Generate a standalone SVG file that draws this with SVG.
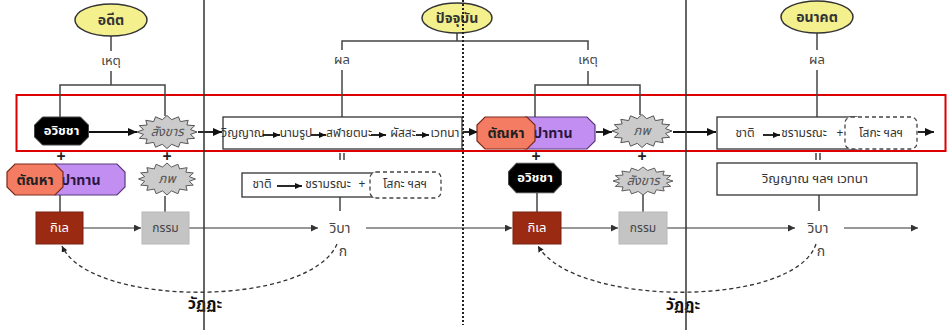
<svg xmlns="http://www.w3.org/2000/svg" width="948" height="330" viewBox="0 0 948 330">
<style>
text{font-family:"Noto Sans Thai","Noto Sans","DejaVu Sans",sans-serif;text-anchor:middle;dominant-baseline:central}
.ln{stroke:#444;stroke-width:1.5;fill:none}
.ar{stroke:#111;stroke-width:1.8;fill:none;marker-end:url(#ah)}
.ar2{stroke:#333;stroke-width:1.1;fill:none;marker-end:url(#ah2)}
.sm{stroke:#111;stroke-width:1.8;fill:none;marker-end:url(#ahs)}
.arc{stroke:#333;stroke-width:1.3;fill:none;stroke-dasharray:4 3;marker-end:url(#ahd)}
.ell{fill:#f4f08e;stroke:#333;stroke-width:1.5}
.star{fill:#cbcbcb;stroke:#555;stroke-width:1}
.oct{fill:#000;stroke:#444;stroke-width:1}
.orange{fill:#f47c63;stroke:#7a2a1a;stroke-width:1.2}
.purple{fill:#c28ef2;stroke:#5a3a7a;stroke-width:1.2}
.box{fill:#fff;stroke:#333;stroke-width:1.3}
.dbox{fill:#fff;stroke:#444;stroke-width:1.3;stroke-dasharray:4 3}
.lbl{font-size:13px;fill:#444}
.era{font-size:14px;font-weight:bold;fill:#333}
.wt{font-size:13px;font-weight:bold;fill:#fff}
.dk{font-size:14px;font-weight:bold;fill:#222}
.st{font-size:13px;fill:#555;font-style:italic}
.bx{font-size:12px;fill:#333}
.pl{font-size:16px;font-weight:bold;fill:#222}
.kl{font-size:13px;fill:#fff}
.km{font-size:12px;fill:#444}
.vb{font-size:14px;fill:#444}
.vt{font-size:16px;font-weight:bold;fill:#111}
.div{stroke:#333;stroke-width:1.5}
.dot{stroke:#222;stroke-width:2;stroke-dasharray:2 2}
</style>
<defs>
<marker id="ah" markerUnits="userSpaceOnUse" markerWidth="9" markerHeight="8" refX="9" refY="4" orient="auto"><path d="M0,0 L9,4 L0,8 z" fill="#111"/></marker>
<marker id="ah2" markerUnits="userSpaceOnUse" markerWidth="7" markerHeight="7" refX="7" refY="3.5" orient="auto"><path d="M0,0 L7,3.5 L0,7 z" fill="#333"/></marker>
<marker id="ahs" markerUnits="userSpaceOnUse" markerWidth="7" markerHeight="6" refX="7" refY="3" orient="auto"><path d="M0,0 L7,3 L0,6 z" fill="#111"/></marker>
<marker id="ahd" markerUnits="userSpaceOnUse" markerWidth="6" markerHeight="6" refX="6" refY="3" orient="auto"><path d="M0,0 L6,3 L0,6 z" fill="#222"/></marker>
<polygon id="starshape" points="30,0 23.5,2.4 27.7,6.3 19.9,7 21.2,11.7 13.3,10.4 11.5,15.2 4.7,12.3 0,16.5 -4.7,12.3 -11.5,15.2 -13.3,10.4 -21.2,11.7 -19.9,7 -27.7,6.3 -23.5,2.4 -30,0 -23.5,-2.4 -27.7,-6.3 -19.9,-7 -21.2,-11.7 -13.3,-10.4 -11.5,-15.2 -4.7,-12.3 0,-16.5 4.7,-12.3 11.5,-15.2 13.3,-10.4 21.2,-11.7 19.9,-7 27.7,-6.3 23.5,-2.4"/>
<polygon id="octshape" points="-19,-14 19,-14 27,-6 27,6 19,14 -19,14 -27,6 -27,-6"/>
</defs>

<rect x="16.5" y="95" width="929" height="56" fill="none" stroke="#d00" stroke-width="2"/>

<g id="connectors">
<line class="ln" x1="111" y1="36" x2="111" y2="51"/>
<line class="ln" x1="111" y1="71" x2="111" y2="85"/>
<path class="ln" d="M60,117 V85 H165 V116"/>
<line class="ln" x1="457" y1="33" x2="457" y2="41"/>
<path class="ln" d="M342,50 V41 H588 V50"/>
<line class="ln" x1="342" y1="70" x2="342" y2="117"/>
<line class="ln" x1="588" y1="71" x2="588" y2="85"/>
<path class="ln" d="M535,117 V85 H640 V115"/>
<line class="ln" x1="817" y1="33" x2="817" y2="50"/>
<line class="ln" x1="817" y1="70" x2="817" y2="117"/>
<line class="ar" x1="88" y1="132" x2="137" y2="132"/>
<line class="ar" x1="198" y1="132" x2="222" y2="132"/>
<line class="ar" x1="463" y1="132" x2="478" y2="132"/>
<line class="ar" x1="596" y1="132" x2="612" y2="132"/>
<line class="ar" x1="673" y1="132" x2="716" y2="132"/>
<line class="ar" x1="918" y1="132" x2="934" y2="132"/>
<line class="ln" x1="340" y1="153" x2="340" y2="160"/>
<line class="ln" x1="344" y1="153" x2="344" y2="160"/>
<line class="ln" x1="816" y1="153" x2="816" y2="160"/>
<line class="ln" x1="820" y1="153" x2="820" y2="160"/>
<line class="ln" x1="60" y1="195" x2="60" y2="212"/>
<line class="ln" x1="165" y1="196" x2="165" y2="212"/>
<line class="ln" x1="340" y1="197" x2="340" y2="211"/>
<line class="ln" x1="537" y1="193" x2="537" y2="212"/>
<line class="ln" x1="643" y1="195" x2="643" y2="212"/>
<line class="ln" x1="819" y1="195" x2="819" y2="211"/>
<line class="ar2" x1="83" y1="228" x2="141" y2="228"/>
<line class="ar2" x1="189" y1="228" x2="318" y2="228"/>
<line class="ar2" x1="366" y1="228" x2="512" y2="228"/>
<line class="ar2" x1="561" y1="228" x2="618" y2="228"/>
<line class="ar2" x1="667" y1="228" x2="795" y2="228"/>
<line class="ar2" x1="844" y1="228" x2="918" y2="228"/>
<path class="arc" d="M337,244 C310,308 90,308 62,246"/>
<path class="arc" d="M816,244 C795,308 575,308 538,246"/>
</g>

<g id="labels">
<text class="lbl" x="111" y="61">เหตุ</text>
<text class="lbl" x="342" y="60">ผล</text>
<text class="lbl" x="588" y="60">เหตุ</text>
<text class="lbl" x="817" y="60">ผล</text>
<text class="pl" x="61" y="157">+</text>
<text class="pl" x="167" y="157">+</text>
<text class="pl" x="536" y="157">+</text>
<text class="pl" x="642" y="157">+</text>
<text class="vt" x="205" y="304">วัฏฏะ</text>
<text class="vt" x="683" y="305">วัฏฏะ</text>
</g>

<g id="past"><ellipse class="ell" cx="111" cy="20" rx="36" ry="16"/><text class="era" x="111" y="20">อดีต</text></g>
<g id="present"><ellipse class="ell" cx="457" cy="18" rx="35" ry="15"/><text class="era" x="457" y="18">ปัจจุบัน</text></g>
<g id="future"><ellipse class="ell" cx="817" cy="17" rx="36" ry="16"/><text class="era" x="817" y="17">อนาคต</text></g>

<g id="avijja1"><use href="#octshape" class="oct" transform="translate(61.5,131)"/><text class="wt" x="61.5" y="131">อวิชชา</text></g>
<g id="sankhara1"><use href="#starshape" class="star" transform="translate(167,132)"/><text class="st" x="167" y="132">สังขาร</text></g>
<g id="present-result">
<rect class="box" x="223" y="117" width="239" height="32"/>
<text class="bx" x="243" y="133">วิญญาณ</text>
<line class="sm" x1="263" y1="135" x2="280" y2="135"/>
<text class="bx" x="296" y="133">นามรูป</text>
<line class="sm" x1="311" y1="135" x2="326" y2="135"/>
<text class="bx" x="349" y="133">สฬายตนะ</text>
<line class="sm" x1="371" y1="135" x2="386" y2="135"/>
<text class="bx" x="403" y="133">ผัสสะ</text>
<line class="sm" x1="416" y1="135" x2="429" y2="135"/>
<text class="bx" x="445" y="133">เวทนา</text>
</g>
<g id="tanha1">
<polygon class="purple" points="525,117 587,117 595,125 595,141 587,149 525,149"/>
<text class="dk" x="525" y="133" style="text-anchor:start;fill:#2a1540">อุปาทาน</text>
<polygon class="orange" points="485,117 527,117 535,125 535,141 527,149 485,149 477,141 477,125"/>
<text class="dk" x="506" y="133">ตัณหา</text>
</g>
<g id="bhava1"><use href="#starshape" class="star" transform="translate(642,131)"/><text class="st" x="642" y="131">ภพ</text></g>
<g id="future-result">
<rect class="box" x="717" y="117" width="140" height="32"/>
<text class="bx" x="745" y="133">ชาติ</text>
<line class="sm" x1="763" y1="135" x2="780" y2="135"/>
<text class="bx" x="804" y="133">ชรามรณะ</text>
<text class="bx" x="840" y="133">+</text>
<rect class="dbox" x="845" y="117" width="72" height="32" rx="6"/>
<text class="bx" x="881" y="133">โสกะ ฯลฯ</text>
</g>

<g id="tanha2">
<polygon class="purple" points="55,164 117,164 125,172 125,187 117,195 55,195"/>
<text class="dk" x="53" y="180" style="text-anchor:start;fill:#2a1540">อุปาทาน</text>
<polygon class="orange" points="15,164 55,164 63,172 63,187 55,195 15,195 7,187 7,172"/>
<text class="dk" x="35" y="180">ตัณหา</text>
</g>
<g id="bhava2"><use href="#starshape" class="star" transform="translate(167,179) scale(0.95,0.97)"/><text class="st" x="167" y="179">ภพ</text></g>
<g id="jati-box">
<rect class="box" x="242" y="173" width="140" height="24"/>
<text class="bx" x="262" y="184">ชาติ</text>
<line class="sm" x1="277" y1="186" x2="302" y2="186"/>
<text class="bx" x="328" y="184">ชรามรณะ</text>
<text class="bx" x="362" y="184">+</text>
<rect class="dbox" x="370" y="172" width="71" height="26" rx="6"/>
<text class="bx" x="405" y="184">โสกะ ฯลฯ</text>
</g>
<g id="avijja2"><use href="#octshape" class="oct" transform="translate(535,178) scale(0.98,1.05)"/><text class="wt" x="535" y="178">อวิชชา</text></g>
<g id="sankhara2"><use href="#starshape" class="star" transform="translate(643,181) scale(1,0.85)"/><text class="st" x="643" y="181">สังขาร</text></g>
<g id="vinnana-box"><rect class="box" x="717" y="163" width="200" height="32"/><text class="bx" x="815" y="179" style="font-size:13px">วิญญาณ ฯลฯ เวทนา</text></g>

<g id="kilesa1"><rect x="36" y="212" width="47" height="32" fill="#9a2a12" stroke="#7a2010"/><text class="kl" x="59.5" y="228">กิเล</text></g>
<g id="kamma1"><rect x="142" y="212" width="47" height="32" fill="#c4c4c4" stroke="#b8b8b8"/><text class="km" x="165.5" y="228">กรรม</text></g>
<g id="vipaka1"><text class="vb" x="340" y="228">วิบา</text><text class="vb" x="343" y="251">ก</text></g>
<g id="kilesa2"><rect x="513" y="212" width="48" height="32" fill="#9a2a12" stroke="#7a2010"/><text class="kl" x="537" y="228">กิเล</text></g>
<g id="kamma2"><rect x="619" y="212" width="48" height="32" fill="#c4c4c4" stroke="#b8b8b8"/><text class="km" x="643" y="228">กรรม</text></g>
<g id="vipaka2"><text class="vb" x="818" y="228">วิบา</text><text class="vb" x="821" y="251">ก</text></g>

<g id="dividers">
<line class="div" x1="204" y1="0" x2="204" y2="330"/>
<line class="div" x1="686" y1="0" x2="686" y2="330"/>
<line class="dot" x1="463" y1="0" x2="463" y2="325"/>
</g>
</svg>
